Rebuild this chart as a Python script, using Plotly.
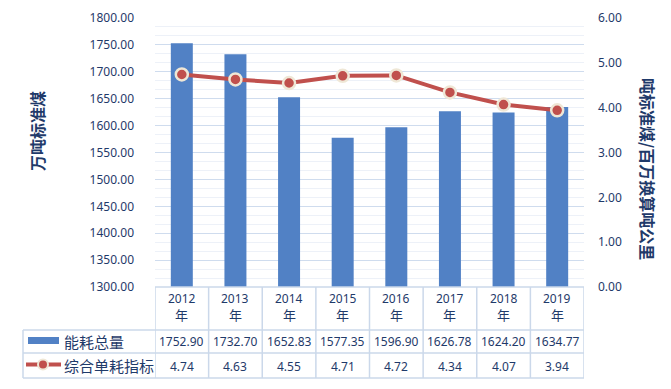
import plotly.graph_objects as go

years = ["2012", "2013", "2014", "2015", "2016", "2017", "2018", "2019"]
energy_total = [1752.90, 1732.70, 1652.83, 1577.35, 1596.90, 1626.78, 1624.20, 1634.77]
unit_index = [4.74, 4.63, 4.55, 4.71, 4.72, 4.34, 4.07, 3.94]
bar_name = "能耗总量"
line_name = "综合单耗指标"
left_title = "万吨标准煤"
right_title = "吨标准煤/百万换算吨公里"
year_suffix = "年"

OFF = 8  # page body margin
W, H = 671 - OFF, 389 - OFF
# target plot area in screenshot pixels: x 155..584, y 18..287
L, T = 155 - OFF, 18 - OFF
R, B = W - (584 - OFF), H - (287 - OFF)
PW, PH = W - L - R, H - T - B

NAVY = "#1f3a6a"
GRID = "#cfdcee"
MINOR = "#edf1f8"
TLINE = "#cbd8ea"
BLUE = "#5181c5"
RED = "#c0504d"
BEIGE = "#efe7d6"
FONT = "Noto Sans, Noto Sans CJK SC"


def px(xs):
    return (xs - OFF - L) / PW


def py(ys):
    return (H - B - (ys - OFF)) / PH


fig = go.Figure()
fig.add_trace(go.Bar(x=list(range(len(years))), y=energy_total, name=bar_name,
                     marker=dict(color=BLUE, line=dict(width=0)), width=0.41,
                     yaxis="y"))
fig.add_trace(go.Scatter(x=list(range(len(years))), y=unit_index, name=line_name,
                         mode="lines+markers", yaxis="y2",
                         line=dict(color=RED, width=4),
                         marker=dict(size=12, color=RED, line=dict(color=BEIGE, width=2.5))))

shapes = []
annotations = []
y_head_bot = py(330)
y_row2_bot = py(353)
y_row3_bot = py(378)
n = len(years)

for yy in [y_head_bot, y_row2_bot, y_row3_bot]:
    shapes.append(dict(type="line", xref="paper", yref="paper", x0=px(23), x1=1, y0=yy, y1=yy,
                       line=dict(color=TLINE, width=1.5)))
shapes.append(dict(type="line", xref="paper", yref="paper", x0=0, x1=1, y0=0, y1=0,
                   line=dict(color=TLINE, width=1.5)))
for i in range(n + 1):
    shapes.append(dict(type="line", xref="x", yref="paper", x0=i - 0.5, x1=i - 0.5,
                       y0=0, y1=y_row3_bot, line=dict(color=TLINE, width=1.5)))
shapes.append(dict(type="line", xref="paper", yref="paper", x0=px(23), x1=px(23),
                   y0=y_head_bot, y1=y_row3_bot, line=dict(color=TLINE, width=1.5)))

# legend icons
shapes.append(dict(type="rect", xref="paper", yref="paper", x0=px(28), x1=px(59),
                   y0=py(344), y1=py(337), fillcolor=BLUE, line=dict(width=0)))
shapes.append(dict(type="line", xref="paper", yref="paper", x0=px(26), x1=px(61),
                   y0=py(364.5), y1=py(364.5), line=dict(color=RED, width=4)))
shapes.append(dict(type="circle", xref="paper", yref="paper", x0=px(38), x1=px(48),
                   y0=py(369.5), y1=py(359.5), fillcolor=RED, line=dict(color=BEIGE, width=2)))


def ann(x, y, text, size, xref="x", xanchor="center", angle=0, family=FONT):
    return dict(x=x, y=y, xref=xref, yref="paper", text=text, showarrow=False,
                xanchor=xanchor, yanchor="middle", textangle=angle,
                font=dict(size=size, color=NAVY, family=family))


for i in range(n):
    annotations.append(ann(i, py(298), years[i], 12))
    annotations.append(ann(i, py(315), year_suffix, 13))
    annotations.append(ann(i, py(341.5), f"{energy_total[i]:.2f}", 12))
    annotations.append(ann(i, py(366), f"{unit_index[i]:.2f}", 12))

CJK = "Noto Sans CJK SC"
annotations.append(ann(px(62), py(341.5), bar_name, 15, xref="paper", xanchor="left", family=CJK))
annotations.append(ann(px(62), py(365.5), line_name, 15, xref="paper", xanchor="left", family=CJK))
annotations.append(ann(px(37), py(131), f"<b>{left_title}</b>", 16, xref="paper", angle=-90, family=CJK))
annotations.append(ann(px(648), py(169), f"<b>{right_title}</b>", 16, xref="paper", angle=90, family=CJK))

fig.update_layout(
    width=W, height=H,
    margin=dict(l=L, r=R, t=T, b=B, pad=0, autoexpand=False),
    paper_bgcolor="white", plot_bgcolor="white",
    showlegend=False,
    font=dict(family=FONT, color=NAVY, size=12),
    xaxis=dict(type="linear", range=[-0.5, n - 0.5], showticklabels=False, showgrid=False,
               zeroline=False, showline=False, ticks=""),
    yaxis=dict(range=[1300, 1800], dtick=50, tick0=1300, tickformat=".2f",
               showgrid=True, gridcolor=GRID, gridwidth=1, zeroline=False, showline=False,
               ticks="", ticklabelstandoff=20,
               tickfont=dict(size=12, color=NAVY, family=FONT),
               minor=dict(dtick=50 / 3, tick0=1300, showgrid=True, gridcolor=MINOR, gridwidth=1)),
    yaxis2=dict(range=[0, 6], dtick=1, tickformat=".2f", overlaying="y", side="right",
                showgrid=False, zeroline=False, showline=False, ticks="", ticklabelstandoff=13,
                tickfont=dict(size=12, color=NAVY, family=FONT)),
    shapes=shapes,
    annotations=annotations,
)

fig.write_html("out.html")
